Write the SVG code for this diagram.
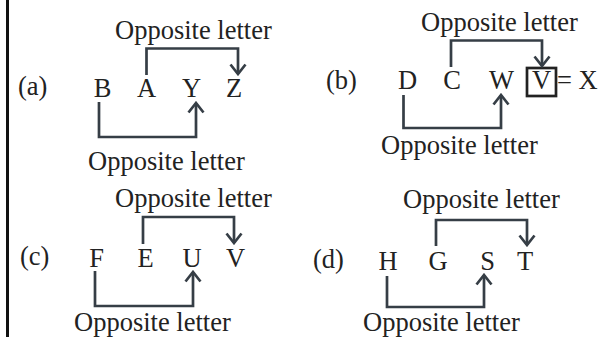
<svg xmlns="http://www.w3.org/2000/svg" width="610" height="337" viewBox="0 0 610 337">
<defs>
<style>
text{font-family:"Liberation Serif","Times New Roman",serif;font-size:26.5px;fill:#222;}
.m{text-anchor:middle;}
.c{fill:none;stroke:#363e46;stroke-width:2.7;marker-end:url(#ah);}
.box{fill:none;stroke:#222;stroke-width:2.7;}
</style>
<marker id="ah" markerUnits="userSpaceOnUse" viewBox="-11 -9 13 18" refX="0" refY="0" markerWidth="13" markerHeight="18" orient="auto">
<path d="M-9.5,-7.5 L0,0 L-9.5,7.5" fill="none" stroke="#363e46" stroke-width="2.7"/>
</marker>
</defs>
<rect x="0" y="0" width="610" height="337" fill="#fff"/>
<line x1="7.5" y1="0" x2="7.5" y2="337" stroke="#111" stroke-width="3"/>

<g id="panel-a">
<text id="label-a" x="18" y="95">(a)</text>
<text id="a-top" x="115" y="39">Opposite letter</text>
<text id="a-bottom" x="88" y="170">Opposite letter</text>
<g id="a-B"><text class="m" x="102.5" y="97">B</text></g>
<g id="a-A"><text class="m" x="146.5" y="97">A</text></g>
<g id="a-Y"><text class="m" x="191.5" y="97">Y</text></g>
<g id="a-Z"><text class="m" x="234" y="97">Z</text></g>
</g>

<g id="panel-b">
<text id="label-b" x="326" y="89">(b)</text>
<text id="b-top" x="421" y="31">Opposite letter</text>
<text id="b-bottom" x="381" y="154">Opposite letter</text>
<g id="b-D"><text class="m" x="407.5" y="89">D</text></g>
<g id="b-C"><text class="m" x="452" y="89">C</text></g>
<g id="b-W"><text class="m" x="501.5" y="89">W</text></g>
<g id="b-V"><rect class="box" x="527" y="68" width="29" height="28"/><text class="m" x="541.5" y="89">V</text></g>
<g id="b-eq"><text x="557" y="89">=</text></g>
<g id="b-X"><text x="578.5" y="89">X</text></g>
</g>

<g id="panel-c">
<text id="label-c" x="20" y="265">(c)</text>
<text id="c-top" x="115" y="207">Opposite letter</text>
<text id="c-bottom" x="74" y="331">Opposite letter</text>
<g id="c-F"><text class="m" x="96.5" y="267">F</text></g>
<g id="c-E"><text class="m" x="145.5" y="267">E</text></g>
<g id="c-U"><text class="m" x="192" y="267">U</text></g>
<g id="c-V"><text class="m" x="235.5" y="267">V</text></g>
</g>

<g id="panel-d">
<text id="label-d" x="313" y="268">(d)</text>
<text id="d-top" x="403" y="208">Opposite letter</text>
<text id="d-bottom" x="363" y="331">Opposite letter</text>
<g id="d-H"><text class="m" x="388" y="270">H</text></g>
<g id="d-G"><text class="m" x="438" y="270">G</text></g>
<g id="d-S"><text class="m" x="487.5" y="270">S</text></g>
<g id="d-T"><text class="m" x="525" y="270">T</text></g>
</g>

<g id="connectors">
<path class="c" d="M146.5,75 V48.5 H238 V74"/>
<path class="c" d="M99,102 V137 H196 V103"/>
<path class="c" d="M451,67 V40.5 H542 V66"/>
<path class="c" d="M403.5,95 V128 H501 V95"/>
<path class="c" d="M143,244 V217 H234 V243"/>
<path class="c" d="M95,271 V306 H193 V272"/>
<path class="c" d="M436,246 V220 H527 V245"/>
<path class="c" d="M387,276 V307 H484 V275"/>
</g>
</svg>
